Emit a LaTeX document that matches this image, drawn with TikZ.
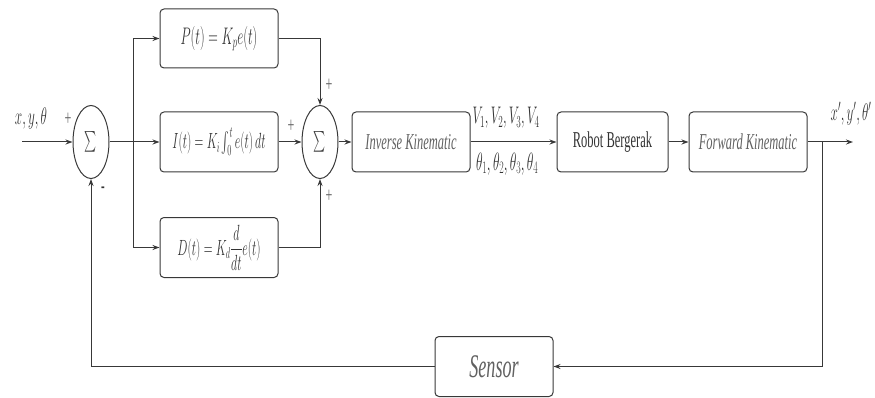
\RequirePackage{fix-cm}
\documentclass[tikz,border=0pt]{standalone}
\usepackage{exscale}
\usepackage{fontspec}
\setmainfont{Liberation Serif}
\usepackage{graphicx}
\usetikzlibrary{arrows.meta,shapes.geometric}
\newcommand{\sq}[1]{\scalebox{0.55}[1]{#1}}
\definecolor{lnc}{gray}{0.22}
\definecolor{itc}{gray}{0.38}
\definecolor{txc}{gray}{0.2}
\tikzset{
  blk/.style={draw=lnc, line width=1pt, rounded corners=4pt, minimum height=60pt, inner sep=0pt, text=txc},
  sumnode/.style={draw=lnc, line width=1pt, ellipse, minimum width=36pt, minimum height=73pt, inner sep=0pt, text=black!75},
  arr/.style={draw=lnc, line width=1pt, -{Stealth[length=7pt,width=5pt]}},
  ln/.style={draw=lnc, line width=1pt},
  lbl/.style={inner sep=0pt, text=txc},
  sgn/.style={inner sep=0pt, text=black!60},
}
\begin{document}
\begin{tikzpicture}[x=1pt,y=-1pt]
\useasboundingbox (0,0) rectangle (875,398);
% summing junctions
\node[sumnode] (s1) at (91,142) {\sq{\fontsize{22}{24}\selectfont$\textstyle\sum$}};
\node[sumnode] (s2) at (320,142) {\sq{\fontsize{22}{24}\selectfont$\textstyle\sum$}};
% PID blocks
\node[blk, minimum width=118pt, minimum height=59pt] (P) at (219,38.5) {\sq{\fontsize{24}{26}\selectfont$P(t)=K_p e(t)$}};
\node[blk, minimum width=118pt] (I) at (219,142) {\sq{\fontsize{22}{26}\selectfont$I(t)=K_i\int_0^t e(t)\,dt$}};
\node[blk, minimum width=118pt] (D) at (219,247.5) {\sq{\fontsize{22}{26}\selectfont$D(t)=K_d{\displaystyle\frac{d}{dt}}e(t)$}};
% chain
\node[blk, minimum width=118pt] (IK) at (411,142) {\sq{\fontsize{22.7}{26}\selectfont\color{itc}\itshape Inverse Kinematic}};
\node[blk, minimum width=111pt] (RB) at (612.5,142) {\sq{\fontsize{22.7}{26}\selectfont Robot Bergerak}};
\node[blk, minimum width=118pt] (FK) at (748,142) {\sq{\fontsize{22.7}{26}\selectfont\color{itc}\itshape Forward Kinematic}};
\node[blk, minimum width=118pt] (SE) at (494,366.5) {\sq{\fontsize{33}{36}\selectfont\color{itc}\itshape Sensor}};
% coordinates
\coordinate (in) at (22,142);
\coordinate (br) at (133,142);
\coordinate (tap) at (822,142);
\coordinate (out) at (853,142);
% labels
\node[lbl] (lin) at (31,119) {\sq{\fontsize{24}{26}\selectfont$x,y,\theta$}};
\node[sgn] (pl1) at (68,119) {\sq{\fontsize{22}{24}\selectfont +}};
\node[lbl] (mi1) at (103,190) {\sq{\fontsize{20}{22}\selectfont\bfseries -}};
\node[sgn] (pl2) at (329,85) {\sq{\fontsize{22}{24}\selectfont +}};
\node[sgn] (pl3) at (291,126) {\sq{\fontsize{22}{24}\selectfont +}};
\node[sgn] (pl4) at (329,196) {\sq{\fontsize{22}{24}\selectfont +}};
\node[lbl] (lv) at (506,118) {\sq{\fontsize{24}{26}\selectfont$V_1,V_2,V_3,V_4$}};
\node[lbl] (lt) at (507,164) {\sq{\fontsize{25}{26}\selectfont$\theta_1,\theta_2,\theta_3,\theta_4$}};
\node[lbl] (lout) at (851,114) {\sq{\fontsize{24}{26}\selectfont$x',y',\theta'$}};
% connectors
\draw[arr] (in) -- (s1.west);
\draw[ln] (s1.east) -- (br);
\draw[arr] (br) |- (P.west);
\draw[arr] (br) -- (I.west);
\draw[arr] (br) |- (D.west);
\draw[arr] (P.east) -| (s2.north);
\draw[arr] (I.east) -- (s2.west);
\draw[arr] (D.east) -| (s2.south);
\draw[arr] (s2.east) -- (IK.west);
\draw[arr] (IK.east) -- (RB.west);
\draw[arr] (RB.east) -- (FK.west);
\draw[arr] (FK.east) -- (out);
\draw[arr] (tap) |- (SE.east);
\draw[arr] (SE.west) -| (s1.south);
\end{tikzpicture}
\end{document}
